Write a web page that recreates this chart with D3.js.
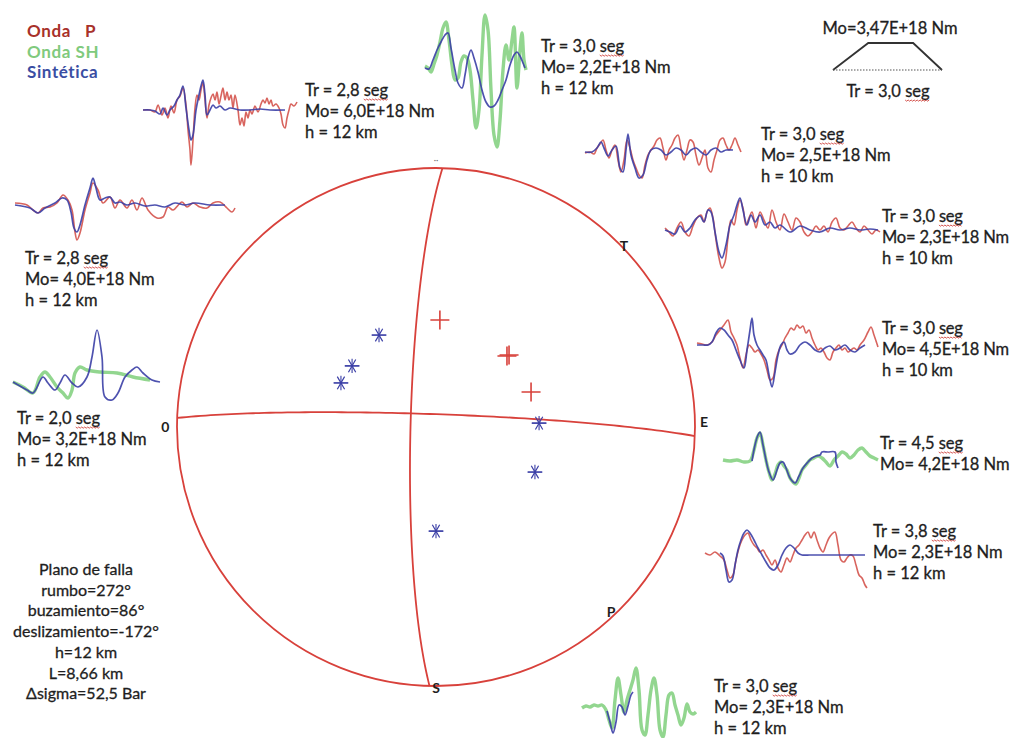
<!DOCTYPE html>
<html><head><meta charset="utf-8">
<script src="https://cdn.jsdelivr.net/npm/d3@7"></script>
<style>
html,body{margin:0;padding:0;background:#fff;}
svg{display:block;font-family:Lato,"Open Sans",sans-serif;}
</style></head>
<body><svg id="chart" width="1011" height="738"></svg>
<script>
// ---------------- DATA ----------------
// Fault plane parameters
const faultStrike = 272, faultDip = 86, faultRake = -172;
const faultLines = ["Plano de falla","rumbo=272°","buzamiento=86°","deslizamiento=-172°","h=12 km","L=8,66 km","Δsigma=52,5 Bar"];
// Stations on the focal sphere (normalised projection coords, x=East, y=North)
const stationsSH = [[-0.220,0.355],[-0.324,0.236],[-0.367,0.170],[0.398,0.015],[0.382,-0.174],[0.000,-0.402]];
const stationsP  = [[0.015,0.413],[0.274,0.274],[0.282,0.278],[0.367,0.135]];
// Source time function
const stfLabel = "Mo=3,47E+18 Nm", stfTr = "Tr = 3,0 seg";
const stfShape = [[0,0],[1.1,1],[2.5,1],[3.4,0]];
// Legend
const legendItems = [["Onda   P","#a8312a"],["Onda SH","#80ca7d"],["Sintética","#3a4ea3"]];

// Waveforms: [time, amplitude]
const obsA=[[0,0],[7,0],[12,-2],[15,5],[19,-5],[22,2],[25,-8],[28,4],[31,-3],[34,10],[37,14],[40,22],[43,5],[45,-20],[47,-40],[48,-55],[50,-30],[52,2],[54,15],[56,10],[58,20],[60,27],[62,10],[64,-8],[66,5],[68,12],[70,16],[72,10],[74,18],[76,6],[78,14],[80,22],[82,10],[84,18],[86,10],[88,15],[90,2],[92,15],[95,0],[97,-15],[99,-8],[101,-16],[103,-2],[105,-8],[107,0],[109,-4],[112,4],[115,-2],[118,6],[120,10],[122,7],[124,12],[126,6],[128,10],[130,4],[133,6],[136,2],[138,-4],[140,-15],[142,-18],[144,-8],[146,0],[148,6],[151,4],[154,8]];
const synA=[[0,0],[7,0],[12,-1],[17,-4],[20,2],[24,-5],[27,0],[31,4],[34,10],[37,15],[40,24],[43,2],[46,-20],[48,-30],[50,-25],[53,0],[56,15],[58,24],[60,30],[62,15],[64,-5],[67,0],[70,5],[73,2],[77,4],[82,0],[87,2],[97,0],[107,0],[117,1],[127,0],[142,0]];
const obsB=[[0,2],[3,0],[6,-4],[9,4],[12,13],[15,26],[18,40],[21,46],[24,28],[27,3],[30,-12],[33,-10],[36,6],[39,12],[42,10],[45,-2],[48,-32],[51,-60],[54,-42],[57,13],[60,53],[63,38],[66,-22],[69,-67],[72,-79],[75,-52],[78,-2],[81,23],[84,8],[87,28],[89,41],[92,-20],[95,18],[97,35],[99,8],[101,-2]];
const synB=[[0,0],[4,-1],[8,8],[12,18],[16,26],[20,33],[23,35],[26,20],[30,-2],[33,-15],[37,-20],[40,-7],[43,10],[46,18],[49,10],[53,-4],[57,-22],[61,-34],[65,-39],[69,-38],[73,-32],[77,-22],[81,-12],[85,3],[89,13],[92,16],[95,12],[98,5],[100,0]];
const obsC=[[0,-1],[5,0],[9,-2],[12,4],[15,8],[18,12],[21,2],[24,-6],[27,2],[30,7],[33,-8],[36,-20],[39,-8],[42,12],[45,4],[48,-8],[51,-16],[54,-23],[57,-26],[60,-13],[63,-3],[66,2],[69,6],[72,12],[75,14],[78,4],[81,-8],[84,2],[87,7],[90,14],[93,17],[96,4],[99,-8],[102,2],[105,12],[108,10],[111,-3],[114,-13],[117,-6],[120,2],[123,-16],[126,-20],[129,-8],[132,2],[135,12],[138,14],[141,7],[144,2],[147,7],[150,14],[153,7],[156,0]];
const synC=[[0,0],[7,0],[12,4],[16,10],[19,4],[23,-4],[27,2],[31,6],[35,-16],[38,-20],[41,2],[43,18],[46,-3],[50,-16],[54,-26],[58,-23],[62,-8],[66,2],[71,4],[76,2],[81,-3],[86,0],[91,4],[96,2],[101,-3],[106,2],[111,4],[116,0],[121,-3],[126,2],[131,4],[136,0],[141,2],[148,2]];
const obsD=[[0,2],[4,-2],[8,-6],[12,2],[16,8],[20,-2],[24,-6],[28,4],[32,12],[36,15],[39,8],[42,18],[45,22],[48,12],[51,-10],[54,-28],[57,-38],[60,-32],[63,-8],[66,10],[69,5],[72,20],[75,30],[78,22],[81,5],[84,12],[87,18],[91,2],[95,18],[99,10],[103,2],[107,20],[111,8],[115,0],[119,16],[123,8],[127,0],[131,12],[135,8],[139,-2],[143,-6],[147,-2],[151,4],[155,0],[159,4],[163,-2],[167,8],[171,12],[175,2],[179,0],[183,4],[187,8],[191,2],[195,-2],[199,4],[203,0],[207,-4],[211,0],[215,-2]];
const synD=[[0,0],[5,-2],[10,-4],[15,4],[20,-2],[25,2],[30,10],[35,14],[39,8],[43,20],[46,18],[50,-2],[54,-22],[57,-28],[61,-15],[65,5],[69,15],[72,25],[75,32],[78,20],[82,5],[86,15],[90,8],[95,15],[100,5],[105,8],[110,2],[115,5],[125,-2],[135,4],[145,0],[155,-2],[165,2],[175,0],[185,2],[195,0],[205,1],[213,0]];
const obsE=[[0,2],[5,1],[10,0],[15,3],[19,10],[23,15],[27,20],[31,25],[34,13],[37,7],[40,0],[43,-13],[46,-23],[49,-10],[52,0],[55,-3],[58,-7],[61,-5],[64,-9],[67,-15],[70,-25],[73,-35],[76,-33],[79,-15],[82,-5],[85,0],[88,7],[91,12],[94,17],[97,15],[100,20],[103,17],[106,19],[109,12],[112,15],[115,7],[118,0],[121,-5],[124,-3],[127,-7],[130,-13],[133,-15],[136,-7],[139,-3],[142,0],[145,-5],[148,-3],[151,-7],[154,-5],[157,-3],[160,-5],[163,0],[167,5],[171,13],[174,18],[177,10],[181,-2]];
const synE=[[0,0],[6,0],[11,0],[15,3],[19,12],[23,17],[27,15],[31,10],[35,5],[39,-5],[43,-15],[47,-23],[50,-5],[53,15],[55,27],[57,10],[60,0],[63,-5],[66,-10],[69,-15],[72,-30],[75,-42],[78,-27],[81,-10],[84,0],[87,3],[90,-5],[93,-9],[98,-7],[103,0],[108,3],[113,0],[118,-5],[123,-7],[128,-3],[133,-1],[138,-5],[143,-3],[148,0],[153,-5],[158,-7],[163,-3],[168,0]];
const obsF=[[0,1],[7,0],[14,1],[21,-1],[27,0],[31,11],[34,23],[37,28],[40,16],[43,1],[46,-11],[49,-19],[52,-13],[55,-4],[58,-1],[61,-5],[64,-9],[67,-17],[70,-21],[73,-23],[76,-17],[79,-9],[83,-4],[87,1],[91,3],[95,5],[99,3],[103,-1],[107,-5],[111,1],[115,5],[119,9],[123,7],[127,3],[131,6],[135,11],[139,13],[143,9],[147,5],[151,3],[155,1]];
const synF=[[29,0],[32,16],[35,26],[37,29],[40,16],[43,1],[46,-11],[50,-19],[54,-9],[57,-2],[60,-1],[63,-7],[67,-17],[72,-22],[76,-15],[80,-7],[85,-1],[89,3],[93,5],[97,6],[99,9],[105,9],[112,9],[113,-1],[115,-7]];
const obsG=[[0,0],[5,-2],[10,1],[15,-3],[19,-7],[22,-17],[25,-25],[28,-22],[31,-7],[34,5],[37,13],[40,18],[43,20],[46,13],[49,8],[52,5],[55,1],[58,3],[61,-2],[64,-7],[67,-12],[70,-7],[73,-15],[76,-19],[79,-12],[82,-5],[85,-9],[88,-2],[91,5],[94,8],[97,13],[100,18],[103,21],[106,15],[109,21],[112,13],[115,5],[118,1],[121,8],[124,15],[127,19],[130,21],[133,8],[136,-7],[139,-9],[142,-5],[145,-2],[148,-3],[151,-12],[154,-22],[157,-25],[160,-32],[162,-35]];
const synG=[[15,0],[18,-3],[21,-17],[24,-29],[27,-27],[30,-12],[33,3],[36,13],[39,20],[42,23],[45,20],[49,13],[53,5],[57,-2],[61,-9],[65,-15],[69,-17],[73,-12],[77,-2],[81,5],[85,8],[89,5],[93,0],[97,-2],[105,-2],[115,-2],[125,-2],[140,-2],[160,-2]];
const obsH=[[0,0],[4,2],[8,1],[12,3],[16,2],[20,3],[24,-2],[27,-12],[30,-20],[33,8],[36,30],[39,13],[42,-4],[45,8],[48,18],[51,28],[54,40],[57,18],[60,-22],[63,-27],[66,-7],[69,18],[72,30],[75,13],[78,-22],[81,-29],[84,-7],[87,13],[90,15],[93,3],[96,-7],[99,-17],[102,-10],[105,4],[108,-4],[111,-6],[114,-4]];
const synH=[[25,-3],[28,-14],[31,-25],[34,-14],[37,3],[40,1],[43,-7],[46,2],[49,13],[51,16]];
const obsI=[[0,2],[12,0],[18,-5],[23,-8],[28,-3],[35,-2],[42,2],[48,10],[53,5],[57,-5],[60,-27],[62,-35],[65,-28],[70,-5],[75,12],[78,22],[83,15],[88,2],[95,8],[100,-3],[105,5],[112,-3],[117,5],[122,-5],[127,7],[133,-5],[142,-13],[148,-12],[153,-2],[158,-5],[167,3],[172,-2],[178,2],[185,-2],[192,-3],[198,2],[205,3],[212,-3],[217,-7],[220,-3]];
const synI=[[0,0],[15,-3],[23,-8],[30,-3],[40,2],[47,7],[52,5],[56,-7],[59,-23],[62,-27],[65,-20],[70,0],[75,17],[78,27],[81,17],[85,5],[90,7],[95,8],[100,2],[105,3],[112,0],[120,2],[130,-1],[140,0],[150,-2],[160,2],[170,0],[180,2],[195,0],[210,0]];
const obsJ=[[0,-2],[10,-7],[20,-13],[27,3],[32,8],[37,3],[44,-7],[50,-13],[55,-18],[59,-10],[62,7],[67,13],[74,10],[87,8],[104,7],[120,3],[137,0]];
const synJ=[[0,-2],[14,-10],[20,-13],[30,3],[35,-3],[42,-10],[47,-3],[52,5],[59,-3],[65,-7],[74,3],[79,23],[84,50],[89,23],[92,-17],[99,-20],[105,-13],[112,3],[119,10],[124,13],[130,7],[139,0],[147,-2]];

const labA=["Tr = 2,8 seg","Mo= 6,0E+18 Nm","h = 12 km"];
const labB=["Tr = 3,0 seg","Mo= 2,2E+18 Nm","h  = 12 km"];
const labC=["Tr = 3,0 seg","Mo= 2,5E+18 Nm","h = 10 km"];
const labD=["Tr = 3,0 seg","Mo= 2,3E+18 Nm","h = 10 km"];
const labE=["Tr = 3,0 seg","Mo= 4,5E+18 Nm","h = 10 km"];
const labF=["Tr = 4,5 seg","Mo= 4,2E+18 Nm"];
const labG=["Tr = 3,8 seg","Mo= 2,3E+18 Nm","h = 12 km"];
const labH=["Tr = 3,0 seg","Mo= 2,3E+18 Nm","h = 12 km"];
const labI=["Tr = 2,8 seg","Mo= 4,0E+18 Nm","h = 12 km"];
const labJ=["Tr = 2,0 seg","Mo= 3,2E+18 Nm","h = 12 km"];

// ---------------- LAYOUT ----------------
const C = {red:"#d4534d", green:"#7fcf7b", blue:"#3b3fa6", text:"#1e1e1e", net:"#d8413b"};
const FS = 16.5;
const panels = [
 {type:"P", obs:obsA, syn:synA, x0:143, base:110, lab:labA, tx:305, ty:96},
 {type:"SH",obs:obsB, syn:synB, x0:425, base:68,  lab:labB, tx:541, ty:52},
 {type:"P", obs:obsC, syn:synC, x0:585, base:152, lab:labC, tx:761, ty:140},
 {type:"P", obs:obsD, syn:synD, x0:665, base:230, lab:labD, tx:882, ty:222, ls:-0.2},
 {type:"P", obs:obsE, syn:synE, x0:697, base:345, lab:labE, tx:882, ty:334, ls:-0.2},
 {type:"SH",obs:obsF, syn:synF, x0:723, base:461, lab:labF, tx:880, ty:449},
 {type:"P", obs:obsG, syn:synG, x0:705, base:553, lab:labG, tx:873, ty:537},
 {type:"SH",obs:obsH, syn:synH, x0:582, base:708, lab:labH, tx:714, ty:692},
 {type:"P", obs:obsI, syn:synI, x0:15,  base:205, lab:labI, tx:25,  ty:264},
 {type:"SH",obs:obsJ, syn:synJ, x0:13,  base:380, lab:labJ, tx:17,  ty:424}
];
const svg = d3.select("#chart");
svg.append("rect").attr("width",1011).attr("height",738).attr("fill","#fff");

function styleText(sel, size){
  sel.attr("font-size",size).attr("fill",C.text).attr("stroke",C.text).attr("stroke-width",0.3);
}
// red spell-check style underline below "seg"
function underlineSeg(textSel){
  textSel.each(function(d){
    const s = typeof d==="string" ? d : this.textContent;
    const idx = s.indexOf("seg");
    if(idx<0) return;
    const node=this;
    const x0=+node.getAttribute("x"), anchor=node.getAttribute("text-anchor")||"start";
    const total=node.getComputedTextLength();
    let start = x0 + node.getSubStringLength(0, idx);
    if(anchor==="middle") start -= total/2;
    const w = node.getSubStringLength(idx,3);
    const yb = +node.getAttribute("y")+3;
    let p=`M${start},${yb}`;
    for(let x=start+1.5, k=0; x<=start+w; x+=1.5, k++) p+=`L${x},${yb+(k%2?0:1.2)}`;
    d3.select(node.parentNode).append("path").attr("d",p).attr("fill","none")
      .attr("stroke","#d0453f").attr("stroke-width",0.9);
  });
}

// ---------------- STEREONET ----------------
const cx = 436, cy = 427, R = 259;
const sx = d3.scaleLinear().domain([-1,1]).range([cx-R, cx+R]);
const sy = d3.scaleLinear().domain([-1,1]).range([cy+R, cy-R]);
const rad = Math.PI/180;
function project(trend, plunge){ // equal-area lower hemisphere
  const r = Math.SQRT2*Math.sin((90-plunge)*rad/2);
  return [r*Math.sin(trend*rad), r*Math.cos(trend*rad)];
}
function greatCircle(strike, dip){
  const pts=[];
  const s=[Math.cos(strike*rad), Math.sin(strike*rad), 0];
  const dd=(strike+90)*rad;
  const d=[Math.cos(dip*rad)*Math.cos(dd), Math.cos(dip*rad)*Math.sin(dd), Math.sin(dip*rad)];
  for(let t=0;t<=180;t+=2){
    const v=[0,1,2].map(i=>Math.cos(t*rad)*s[i]+Math.sin(t*rad)*d[i]);
    const plunge=Math.asin(Math.max(-1,Math.min(1,v[2])))/rad;
    const trend=Math.atan2(v[1],v[0])/rad;
    pts.push(project(trend, plunge));
  }
  return pts;
}
function auxPlane(strike, dip, rake){
  const f=strike*rad, dl=dip*rad, l=rake*rad;
  let u=[Math.cos(l)*Math.cos(f)+Math.sin(l)*Math.cos(dl)*Math.sin(f),
         Math.cos(l)*Math.sin(f)-Math.sin(l)*Math.cos(dl)*Math.cos(f),
         -Math.sin(l)*Math.sin(dl)];
  if(u[2]>0) u=u.map(v=>-v);
  const dip2=Math.acos(-u[2])/rad;
  const ddir=Math.atan2(u[1],u[0])/rad;
  return [((ddir-90)%360+360)%360, dip2];
}
const [strike2, dip2] = auxPlane(faultStrike, faultDip, faultRake);
const line = d3.line().x(d=>sx(d[0])).y(d=>sy(d[1]));
const net = svg.append("g");
net.append("circle").attr("cx",sx(0)).attr("cy",sy(0)).attr("r",sx(1)-sx(0))
  .attr("fill","none").attr("stroke",C.net).attr("stroke-width",1.8);
[[faultStrike,faultDip],[strike2,dip2]].forEach(p=>{
  net.append("path").attr("d",line(greatCircle(p[0],p[1]))).attr("fill","none")
    .attr("stroke",C.net).attr("stroke-width",1.8);
});
const star = d3.symbol().type(d3.symbolAsterisk).size(150);
const plus = d3.symbol().type(d3.symbolPlus).size(120);
net.selectAll(".sh").data(stationsSH).join("path")
  .attr("transform",d=>`translate(${sx(d[0])},${sy(d[1])}) rotate(90)`).attr("d",star)
  .attr("fill","none").attr("stroke",C.blue).attr("stroke-width",1.2);
net.selectAll(".sh2").data(stationsSH).join("path")
  .attr("transform",d=>`translate(${sx(d[0])},${sy(d[1])})`).attr("d",d3.symbol().type(d3.symbolPlus).size(70))
  .attr("fill","none").attr("stroke",C.blue).attr("stroke-width",1.1);
net.selectAll(".p").data(stationsP).join("path")
  .attr("transform",d=>`translate(${sx(d[0])},${sy(d[1])})`).attr("d",plus)
  .attr("fill","none").attr("stroke",C.net).attr("stroke-width",1.6);
const netLabels=[["0",-1.045,0.0],["E",1.035,0.02],["S",0.0,-1.01],["T",0.726,0.7],["P",0.676,-0.716]];
net.selectAll(".nl").data(netLabels).join("text")
  .attr("x",d=>sx(d[1])).attr("y",d=>sy(d[2])).attr("text-anchor","middle").attr("dy","0.35em")
  .attr("font-size",14).attr("font-weight",700).attr("fill",C.text).text(d=>d[0]);
net.append("text").attr("x",sx(0)).attr("y",sy(1.02)).attr("text-anchor","middle")
  .attr("font-size",9).attr("fill","#777").text("··");

// ---------------- WAVEFORMS ----------------
panels.forEach(p=>{
  const x = d3.scaleLinear().domain([0,100]).range([p.x0, p.x0+100]);
  const y = d3.scaleLinear().domain([-50,50]).range([p.base+50, p.base-50]);
  const ln = d3.line().x(d=>x(d[0])).y(d=>y(d[1])).curve(d3.curveCatmullRom.alpha(0.5));
  const g = svg.append("g");
  if(p.type==="SH"){
    g.append("path").attr("d",ln(p.obs)).attr("fill","none").attr("stroke",C.green)
      .attr("stroke-width",3.4).attr("stroke-linejoin","round").attr("opacity",0.85);
  } else {
    g.append("path").attr("d",ln(p.obs)).attr("fill","none").attr("stroke",C.red)
      .attr("stroke-width",1.6).attr("stroke-linejoin","round").attr("opacity",0.9);
  }
  g.append("path").attr("d",ln(p.syn)).attr("fill","none").attr("stroke",C.blue)
    .attr("stroke-width",1.7).attr("stroke-linejoin","round").attr("opacity",0.9);
  const t = g.selectAll("text").data(p.lab).join("text")
    .attr("x",p.tx).attr("y",(d,i)=>p.ty+i*21).attr("letter-spacing",p.ls||0).text(d=>d);
  styleText(t, FS);
  underlineSeg(t);
});

// ---------------- LEGEND ----------------
svg.append("g").selectAll("text").data(legendItems).join("text")
  .attr("x",27).attr("y",(d,i)=>37+i*20.5).attr("font-size",17).attr("font-weight",700)
  .attr("letter-spacing",0.6)
  .attr("fill",d=>d[1]).attr("xml:space","preserve").style("white-space","pre").text(d=>d[0]);

// ---------------- SOURCE TIME FUNCTION ----------------
const stfX = d3.scaleLinear().domain([0,3.4]).range([833,942]);
const stfY = d3.scaleLinear().domain([0,1]).range([70,43]);
const stf = svg.append("g");
stf.append("path").attr("d",d3.line().x(d=>stfX(d[0])).y(d=>stfY(d[1]))(stfShape))
  .attr("fill","none").attr("stroke","#333").attr("stroke-width",1.8);
stf.append("line").attr("x1",stfX(0)).attr("x2",stfX(3.4)).attr("y1",stfY(0)).attr("y2",stfY(0))
  .attr("stroke","#555").attr("stroke-width",1.2).attr("stroke-dasharray","1.5,1.5");
const st1 = stf.append("text").attr("x",890).attr("y",34).attr("text-anchor","middle").text(stfLabel);
styleText(st1, FS);
const st2 = stf.append("text").attr("x",888).attr("y",97).attr("text-anchor","middle").text(stfTr);
styleText(st2, FS);
underlineSeg(st2);

// ---------------- FAULT TEXT ----------------
const ft = svg.append("g").selectAll("text").data(faultLines).join("text")
  .attr("x",86).attr("y",(d,i)=>575+i*20.7).attr("text-anchor","middle").text(d=>d);
styleText(ft, 16);
</script></body></html>
